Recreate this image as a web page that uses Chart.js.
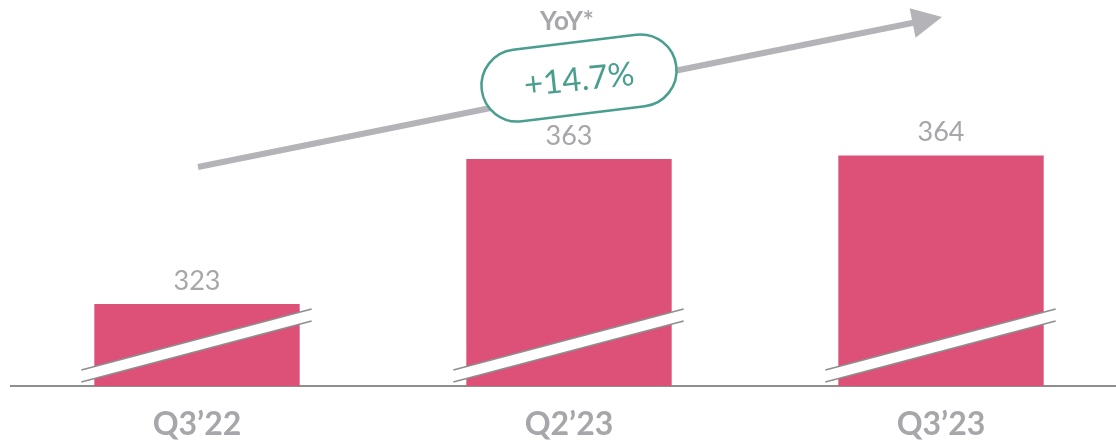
<!DOCTYPE html>
<html>
<head>
<meta charset="utf-8">
<script src="https://cdn.jsdelivr.net/npm/chart.js@4.4.1/dist/chart.umd.min.js"></script>
<style>
  html, body { margin: 0; padding: 0; background: #fff; overflow: hidden; }
  #wrap { width: 1116px; height: 442px; overflow: hidden; }
</style>
</head>
<body>
<div id="wrap"><canvas id="chart" width="1127" height="442"></canvas></div>
<script>
// Data
const quarters = ['Q3\u201922', 'Q2\u201923', 'Q3\u201923'];
const revenue = [323, 363, 364];
const yoyLabel = 'YoY*';
const yoyValue = '+14.7%';

const pink = '#DD5077';
const grey = '#A6A6AB';
const teal = '#4A9E8E';
const FONT = 'Lato, "Open Sans", sans-serif';

// Broken-axis marks, value labels, trend arrow and YoY pill
const decor = {
  id: 'decor',
  afterDatasetsDraw(chart) {
    const ctx = chart.ctx;
    const area = chart.chartArea;
    const xs = chart.scales.x;
    const bars = chart.getDatasetMeta(0).data;
    const b = area.bottom;

    // axis break on every bar
    bars.forEach(el => {
      const l = el.x - el.width / 2 - 13;
      const r = el.x + el.width / 2 + 12;
      ctx.save();
      ctx.fillStyle = '#fff';
      ctx.beginPath();
      ctx.moveTo(l, b - 16);
      ctx.lineTo(r, b - 77);
      ctx.lineTo(r, b - 65);
      ctx.lineTo(l, b - 4);
      ctx.closePath();
      ctx.fill();
      ctx.strokeStyle = '#8E8E8E';
      ctx.lineWidth = 1.5;
      ctx.beginPath();
      ctx.moveTo(l, b - 16); ctx.lineTo(r, b - 77);
      ctx.moveTo(l, b - 4); ctx.lineTo(r, b - 65);
      ctx.stroke();
      ctx.restore();
    });

    // value labels
    ctx.save();
    ctx.font = '27px ' + FONT;
    ctx.fillStyle = grey;
    ctx.textAlign = 'center';
    ctx.textBaseline = 'alphabetic';
    bars.forEach((el, i) => {
      ctx.fillText(String(revenue[i]), el.x, el.y - 14);
    });
    ctx.restore();

    // trend arrow
    const x0 = xs.getPixelForValue(0) + 1, y0 = 167;
    const x1 = xs.getPixelForValue(2) + 1, y1 = 17;
    const a = Math.atan2(y1 - y0, x1 - x0);
    const hl = 30, hw = 15;
    const bx = x1 - hl * Math.cos(a), by = y1 - hl * Math.sin(a);
    ctx.save();
    ctx.strokeStyle = '#B4B4B8';
    ctx.fillStyle = '#B4B4B8';
    ctx.lineWidth = 6;
    ctx.beginPath();
    ctx.moveTo(x0, y0);
    ctx.lineTo(bx + 2 * Math.cos(a), by + 2 * Math.sin(a));
    ctx.stroke();
    ctx.beginPath();
    ctx.moveTo(x1, y1);
    ctx.lineTo(bx + hw * Math.sin(a), by - hw * Math.cos(a));
    ctx.lineTo(bx - hw * Math.sin(a), by + hw * Math.cos(a));
    ctx.closePath();
    ctx.fill();
    ctx.restore();

    // YoY pill
    const cx = xs.getPixelForValue(1) + 10, cy = 78;
    const w = 196, h = 72, rad = 36;
    ctx.save();
    ctx.translate(cx, cy);
    ctx.rotate(-7 * Math.PI / 180);
    ctx.beginPath();
    ctx.roundRect(-w / 2, -h / 2, w, h, rad);
    ctx.fillStyle = '#fff';
    ctx.fill();
    ctx.strokeStyle = teal;
    ctx.lineWidth = 2.5;
    ctx.stroke();
    ctx.rotate(1 * Math.PI / 180);
    ctx.font = '33px ' + FONT;
    ctx.fillStyle = teal;
    ctx.textAlign = 'center';
    ctx.textBaseline = 'middle';
    ctx.fillText(yoyValue, 0, 2);
    ctx.restore();

    ctx.save();
    ctx.font = 'bold 26px ' + FONT;
    ctx.fillStyle = grey;
    ctx.textAlign = 'center';
    ctx.textBaseline = 'middle';
    ctx.fillText(yoyLabel, xs.getPixelForValue(1) - 2, 22);
    ctx.restore();
  }
};

new Chart(document.getElementById('chart'), {
  type: 'bar',
  data: {
    labels: quarters,
    datasets: [{
      data: revenue,
      backgroundColor: pink,
      borderWidth: 0,
      categoryPercentage: 1,
      barPercentage: 0.552
    }]
  },
  options: {
    responsive: false,
    animation: false,
    layout: { padding: { left: 11, top: 0, right: 0, bottom: 0 } },
    plugins: { legend: { display: false }, tooltip: { enabled: false } },
    scales: {
      x: {
        grid: { display: false, drawTicks: false },
        border: { display: true, color: '#8E8E8E', width: 2 },
        ticks: {
          color: grey,
          font: { family: FONT, size: 32, weight: 'bold' },
          padding: 19
        },
        afterFit: s => { s.height = 56; }
      },
      y: {
        display: false,
        min: 300.4,
        max: 406.9
      }
    }
  },
  plugins: [decor]
});
</script>
</body>
</html>
